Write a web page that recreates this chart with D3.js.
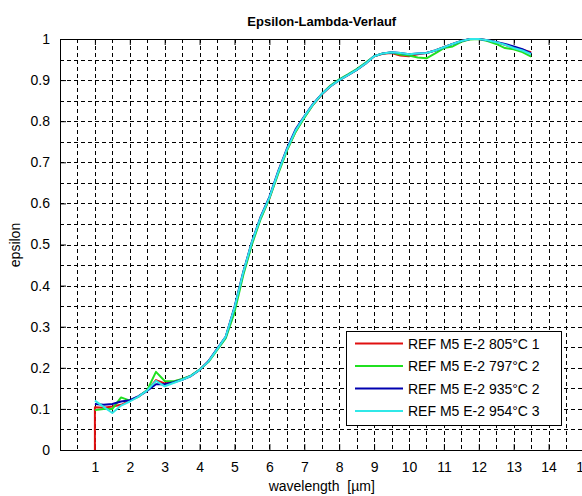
<!DOCTYPE html>
<html><head><meta charset="utf-8">
<script src="https://cdn.jsdelivr.net/npm/d3@7"></script>
<style>body{margin:0;background:#fff;}svg{display:block;font-family:"Liberation Sans",Arial,sans-serif;}</style>
</head><body><svg id="c" width="582" height="496"></svg>
<script>
const title = "Epsilon-Lambda-Verlauf";
const xLabel = "wavelength  [µm]";
const yLabel = "epsilon";
const xTicks = [1,2,3,4,5,6,7,8,9,10,11,12,13,14,15];
const yTicks = [0,0.1,0.2,0.3,0.4,0.5,0.6,0.7,0.8,0.9,1];
const seriesNames = ["REF M5 E-2 805°C 1","REF M5 E-2 797°C 2","REF M5 E-2 935°C 2","REF M5 E-2 954°C 3"];
const seriesColors = ["#e01010","#20e020","#0000b0","#30e8e8"];
const wavelength = [1.0,1.25,1.5,1.75,2.0,2.25,2.5,2.75,3.0,3.25,3.5,3.75,4.0,4.25,4.5,4.75,5.0,5.25,5.5,5.75,6.0,6.25,6.5,6.75,7.0,7.25,7.5,7.75,8.0,8.25,8.5,8.75,9.0,9.25,9.5,9.75,10.0,10.25,10.5,10.75,11.0,11.25,11.5,11.75,12.0,12.25,12.5,12.75,13.0,13.25,13.5];
const redStart = [1.0, 0];
const red   = [0.104,0.103,0.106,0.110,0.120,0.130,0.145,0.170,0.162,0.166,0.172,0.180,0.195,0.215,0.245,0.275,0.345,0.430,0.505,0.565,0.612,0.675,0.730,0.775,0.810,0.840,0.865,0.885,0.900,0.912,0.925,0.940,0.958,0.964,0.966,0.960,0.958,0.963,0.966,0.972,0.980,0.988,0.995,1.000,1.000,0.997,0.992,0.986,0.978,0.974,0.968];
const green = [0.097,0.100,0.100,0.128,0.120,0.130,0.146,0.190,0.168,0.167,0.173,0.181,0.196,0.214,0.243,0.272,0.335,0.425,0.500,0.562,0.612,0.672,0.728,0.774,0.808,0.840,0.866,0.887,0.902,0.914,0.927,0.942,0.958,0.965,0.967,0.962,0.960,0.955,0.953,0.965,0.978,0.982,0.993,0.999,1.000,0.995,0.988,0.978,0.975,0.968,0.957];
const blue  = [0.112,0.110,0.112,0.118,0.121,0.131,0.144,0.160,0.160,0.165,0.171,0.180,0.195,0.216,0.246,0.276,0.348,0.433,0.507,0.568,0.616,0.678,0.733,0.780,0.812,0.842,0.866,0.885,0.900,0.912,0.925,0.940,0.958,0.965,0.968,0.966,0.963,0.965,0.966,0.972,0.980,0.988,0.995,1.000,1.000,0.997,0.993,0.988,0.982,0.975,0.965];
const cyan  = [0.120,0.105,0.090,0.108,0.118,0.130,0.145,0.168,0.155,0.163,0.171,0.180,0.195,0.215,0.245,0.276,0.346,0.432,0.506,0.566,0.614,0.676,0.731,0.777,0.811,0.841,0.866,0.885,0.900,0.912,0.925,0.940,0.958,0.965,0.968,0.966,0.963,0.965,0.966,0.972,0.980,0.988,0.995,1.000,1.000,0.997,0.992,0.986,0.978,0.972,0.963];

const seriesValues = [red, green, blue, cyan];

const L = 60, R = 583.5, T = 39, B = 450;
const svg = d3.select("#c");
const x = d3.scaleLinear().domain([0,15]).range([L,R]);
const y = d3.scaleLinear().domain([0,1]).range([B,T]);

// grid
const gx = d3.range(1,30).map(i=>i*0.5);
const gy = d3.range(1,20).map(i=>i*0.05);
const grid = svg.append("g").attr("stroke","#000").attr("stroke-width",1).attr("stroke-dasharray","4,3").attr("shape-rendering","crispEdges");
grid.selectAll("line.v").data(gx).join("line").attr("class","v")
  .attr("x1",d=>Math.round(x(d))+0.5).attr("x2",d=>Math.round(x(d))+0.5).attr("y1",T).attr("y2",B);
grid.selectAll("line.h").data(gy).join("line").attr("class","h")
  .attr("y1",d=>Math.round(y(d))+0.5).attr("y2",d=>Math.round(y(d))+0.5).attr("x1",L).attr("x2",R);

// axes
const fs = "14px";
const xAxis = d3.axisBottom(x).tickValues(xTicks).tickSizeInner(-6).tickSizeOuter(0).tickPadding(12).tickFormat(d3.format("d"));
const gX = svg.append("g").attr("transform",`translate(0,${B})`).call(xAxis);
const xTop = d3.axisTop(x).tickValues(xTicks).tickSizeInner(-6).tickSizeOuter(0).tickFormat("");
svg.append("g").attr("transform",`translate(0,${T})`).call(xTop);
const yAxis = d3.axisLeft(y).tickValues(yTicks).tickSizeInner(-6).tickSizeOuter(0).tickPadding(10).tickFormat(d=>d===0?"0":d===1?"1":d3.format(".1f")(d));
const gY = svg.append("g").attr("transform",`translate(${L},0)`).call(yAxis);
svg.selectAll(".domain").attr("stroke","#000");
svg.selectAll(".tick line").attr("stroke","#000");
svg.selectAll(".tick text").attr("font-size",fs).attr("font-family","Liberation Sans, Arial, sans-serif").attr("fill","#000");

// lines
const line = d3.line().x(d=>x(d[0])).y(d=>y(d[1]));
seriesValues.forEach((vals,i)=>{
  let pts = wavelength.map((w,j)=>[w, vals[j]]);
  if(i===0) pts = [redStart].concat(pts);
  svg.append("path").datum(pts).attr("d",line).attr("fill","none")
    .attr("stroke",seriesColors[i]).attr("stroke-width",2).attr("stroke-linejoin","round");
});

// title & labels
svg.append("text").attr("x",(L+R)/2).attr("y",26).attr("text-anchor","middle")
  .attr("font-size","13px").attr("font-weight","bold").text(title);
svg.append("text").attr("x",(L+R)/2).attr("y",491).attr("text-anchor","middle")
  .attr("font-size","14px").style("white-space","pre").attr("xml:space","preserve").text(xLabel);
svg.append("text").attr("transform","translate(20,245) rotate(-90)").attr("text-anchor","middle")
  .attr("font-size","14px").text(yLabel);

// legend
const lg = svg.append("g");
lg.append("rect").attr("x",346.5).attr("y",331.5).attr("width",215).attr("height",94)
  .attr("fill","#fff").attr("stroke","#000").attr("stroke-width",1);
seriesNames.forEach((n,i)=>{
  const yy = 343.5 + i*22.5;
  lg.append("line").attr("x1",355).attr("x2",403).attr("y1",yy).attr("y2",yy)
    .attr("stroke",seriesColors[i]).attr("stroke-width",2);
  lg.append("text").attr("x",408).attr("y",yy+5).attr("font-size","14px").text(n);
});
</script></body></html>
